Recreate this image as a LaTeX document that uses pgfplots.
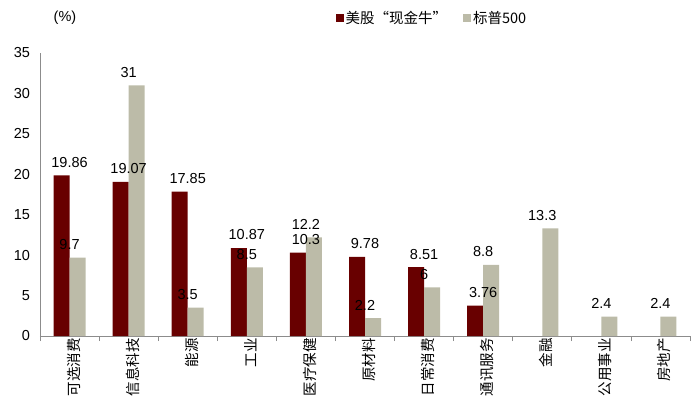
\documentclass[border=0pt]{standalone}
\usepackage{pgfplots}
\pgfplotsset{compat=1.18}
\usepackage{fontspec}
\setmainfont{Liberation Sans}
\newfontfamily\cjk{Noto Sans CJK SC}
\definecolor{darkred}{HTML}{680000}
\definecolor{warmgray}{HTML}{BCBBA8}
\definecolor{axisgray}{HTML}{8C8C8C}

\begin{document}
\fontsize{14.5}{16}\selectfont
\begin{tikzpicture}
\begin{axis}[
    name=main,
    scale only axis,
    width=650pt, height=283pt,
    ybar=0pt, bar width=16pt,
    xmin=-0.5, xmax=10.5,
    ymin=0, ymax=35,
    ytick={0,5,...,35},
    xtick={0,...,10},
    xticklabels={可选消费,信息科技,能源,工业,医疗保健,原材料,日常消费,通讯服务,金融,公用事业,房地产},
    minor xtick={-0.5,0.5,...,10.5},
    major tick length=0pt,
    minor tick length=5pt,
    tick align=outside,
    axis lines*=left,
    axis line style={axisgray, line width=0.8pt},
    every minor tick/.style={axisgray, line width=0.8pt},
    xticklabel style={font=\cjk\fontsize{14.5}{16}\selectfont, rotate=90, anchor=east, inner sep=2pt, yshift=-4pt},
    yticklabel style={font=\fontsize{14.5}{16}\selectfont, xshift=-5pt},
    /pgf/number format/assume math mode=true,
    nodes near coords,
    every node near coord/.style={font=\fontsize{14.5}{16}\selectfont, black, yshift=3pt},
    legend style={draw=none, fill=none, at={(0.603,1.0)}, anchor=center, yshift=35pt,
        legend columns=2, font=\cjk\fontsize{14.5}{16}\selectfont,
        /tikz/every even column/.append style={column sep=14pt}},
    legend image code/.code={\fill[#1] (0pt,-4pt) rectangle (8pt,4pt);},
    clip=false,
]
\addplot[fill=darkred, draw=none] coordinates {
    (0,19.86) (1,19.07) (2,17.85) (3,10.87) (4,10.3) (5,9.78) (6,8.51) (7,3.76)
};
\addlegendentry{美股“现金牛”}
\addplot[fill=warmgray, draw=none] coordinates {
    (0,9.7) (1,31) (2,3.5) (3,8.5) (4,12.2) (5,2.2) (6,6) (7,8.8) (8,13.3) (9,2.4) (10,2.4)
};
\addlegendentry{标普500}
\node[font=\fontsize{14.5}{16}\selectfont] at ([xshift=25pt,yshift=35pt]rel axis cs:0,1) {(\%)};
\end{axis}
\pgfresetboundingbox
\path ([xshift=-40pt,yshift=-82pt]main.south west) rectangle ([xshift=10pt,yshift=53pt]main.north east);
\end{tikzpicture}
\end{document}
